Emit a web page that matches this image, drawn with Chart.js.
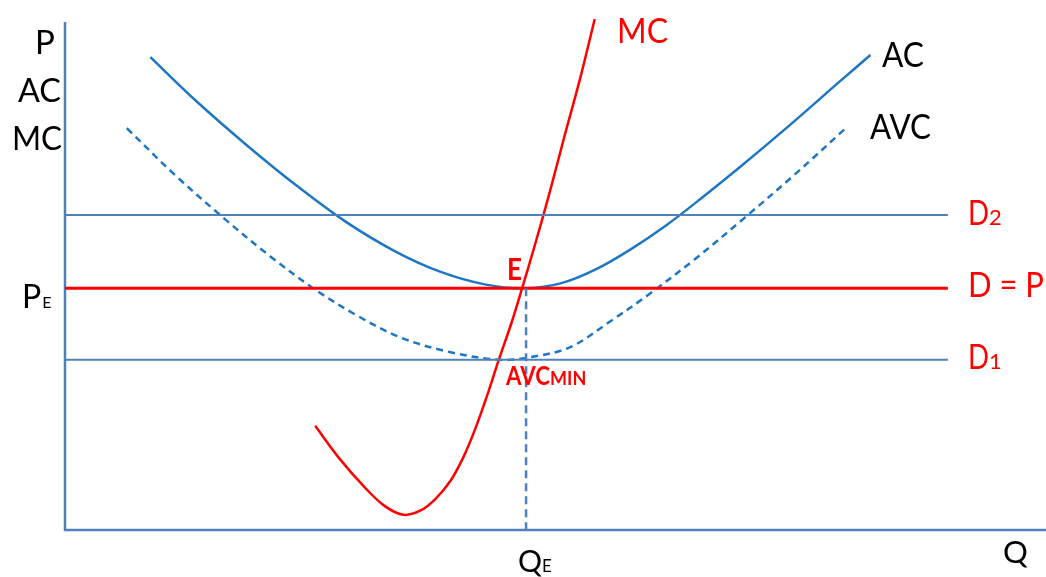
<!DOCTYPE html>
<html>
<head>
<meta charset="utf-8">
<script src="https://cdn.jsdelivr.net/npm/chart.js@4.4.1/dist/chart.umd.min.js"></script>
<style>
  html, body { margin: 0; padding: 0; background: #fff; }
  #wrap { width: 1046px; height: 577px; }
</style>
</head>
<body>
<div id="wrap"><canvas id="grafico" width="1046" height="577"></canvas></div>
<script>
// quantity (Q) and price (P) on a 0..100 scale
const qAC  = [8.7, 13.4, 18.5, 23.6, 28.6, 33.7, 38.3, 42.9, 47.0, 50.6, 54.1, 57.7, 61.3, 64.8, 68.9, 74.0, 79.1, 82.1];
const pAC  = [93.1, 84.4, 75.8, 67.8, 60.7, 54.8, 50.8, 48.3, 47.6, 48.6, 51.3, 55.3, 60.0, 65.2, 71.6, 79.9, 88.5, 93.5];

const qAVC = [6.3, 11.2, 16.3, 20.9, 25.3, 29.6, 34.2, 39.3, 44.3, 47.4, 51.5, 55.6, 59.6, 64.2, 69.3, 74.4, 79.7];
const pAVC = [79.1, 69.9, 61.2, 53.9, 47.6, 42.4, 37.9, 35.0, 33.5, 34.0, 36.0, 41.1, 46.5, 53.3, 61.5, 70.0, 79.3];

const qMC  = [25.5, 28.0, 30.6, 32.6, 34.5, 36.2, 37.7, 39.3, 40.6, 41.8, 43.0, 44.2, 45.5, 46.6, 47.9, 49.4, 50.9, 52.5, 54.0];
const pMC  = [20.5, 14.0, 8.3, 4.7, 3.0, 3.8, 6.0, 9.7, 14.3, 19.8, 26.3, 33.4, 40.7, 47.6, 56.1, 66.4, 77.4, 88.8, 100.6];

const QE = 47.0;
const PE = 47.6;
const D2 = 62.0;
const D1 = 33.5;
const qFimLinha = 90.0;

const azulCurva = '#1f77c4';
const azulEixo = '#4f81bd';
const vermelho = '#ff0000';
const fonte = 'Lato, "Open Sans", sans-serif';

function pontos(qs, ps) {
    return qs.map((q, i) => ({ x: q, y: ps[i] }));
}

function reta(y) {
    return [{ x: 0, y: y }, { x: qFimLinha, y: y }];
}

// eixos desenhados a partir da área do gráfico
const eixos = {
    id: 'eixos',
    beforeDatasetsDraw(chart) {
        const { ctx, chartArea } = chart;
        ctx.save();
        ctx.strokeStyle = azulEixo;
        ctx.lineWidth = 2.5;
        ctx.beginPath();
        ctx.moveTo(chartArea.left, chartArea.top);
        ctx.lineTo(chartArea.left, chartArea.bottom);
        ctx.lineTo(chartArea.right, chartArea.bottom);
        ctx.stroke();
        ctx.restore();
    }
};

// escreve o texto e devolve onde ele termina; larg limita a largura
function texto(ctx, t, x, y, tam, cor, peso, larg) {
    ctx.font = (peso || 'normal') + ' ' + tam + 'px ' + fonte;
    ctx.fillStyle = cor;
    const w = Math.min(ctx.measureText(t).width, larg || Infinity);
    ctx.fillText(t, x, y, w);
    return x + w;
}

// texto com índice menor na mesma linha de base
function textoIndice(ctx, t, sub, x, y, tam, tamSub, cor, peso, larg, largSub, folga) {
    const fim = texto(ctx, t, x, y, tam, cor, peso, larg);
    texto(ctx, sub, fim + (folga || 0), y, tamSub, cor, peso, largSub);
}

const rotulos = {
    id: 'rotulos',
    afterDraw(chart) {
        const ctx = chart.ctx;
        const xs = chart.scales.x;
        const ys = chart.scales.y;
        ctx.save();
        ctx.textBaseline = 'alphabetic';
        ctx.textAlign = 'left';

        // eixo vertical
        texto(ctx, 'P', 35, 54, 33, '#000');
        texto(ctx, 'AC', 18, 102, 33, '#000', 'normal', 43);
        texto(ctx, 'MC', 12, 150, 33, '#000', 'normal', 50);
        textoIndice(ctx, 'P', 'E', 22, ys.getPixelForValue(PE) + 20, 32, 16, '#000', 'normal', 0, 10, 1);

        // eixo horizontal
        textoIndice(ctx, 'Q', 'E', xs.getPixelForValue(QE) - 8, 572, 30, 17, '#000', 'normal', 0, 13, 0);
        texto(ctx, 'Q', 1003, 563, 31, '#000');

        // nomes das curvas
        texto(ctx, 'AC', 882, 67, 34, '#000', 'normal', 42);
        texto(ctx, 'AVC', 870, 139, 34, '#000', 'normal', 61);
        texto(ctx, 'MC', 617, 43, 34, vermelho, 'normal', 51);

        // demandas
        const xD = xs.getPixelForValue(qFimLinha) + 20;
        textoIndice(ctx, 'D', '2', xD, ys.getPixelForValue(D2) + 10, 34, 22, vermelho, 'normal', 21, 13, 0);
        texto(ctx, 'D = P', xD, ys.getPixelForValue(PE) + 9, 34, vermelho, 'normal', 76);
        textoIndice(ctx, 'D', '1', xD, ys.getPixelForValue(D1) + 9, 34, 22, vermelho, 'normal', 21, 13, 0);

        // equilíbrio e mínimo do AVC
        texto(ctx, 'E', xs.getPixelForValue(QE) - 19, ys.getPixelForValue(PE) - 8, 30, vermelho, 'bold', 15);
        textoIndice(ctx, 'AVC', 'MIN', xs.getPixelForValue(QE) - 20, ys.getPixelForValue(D1) + 25, 26, 18, vermelho, 'bold', 44, 39, 0);

        ctx.restore();
    }
};

const ctx = document.getElementById('grafico').getContext('2d');

new Chart(ctx, {
    type: 'line',
    data: {
        datasets: [
            {
                label: 'D2',
                data: reta(D2),
                borderColor: azulEixo,
                borderWidth: 2,
                tension: 0
            },
            {
                label: 'D1',
                data: reta(D1),
                borderColor: azulEixo,
                borderWidth: 2,
                tension: 0
            },
            {
                label: 'QE',
                data: [{ x: QE, y: PE }, { x: QE, y: 0 }],
                borderColor: azulEixo,
                borderWidth: 2.5,
                borderDash: [8, 5],
                tension: 0
            },
            {
                label: 'D = P',
                data: reta(PE),
                borderColor: vermelho,
                borderWidth: 3,
                tension: 0
            },
            {
                label: 'AVC',
                data: pontos(qAVC, pAVC),
                borderColor: azulCurva,
                borderWidth: 2.5,
                borderDash: [7, 5],
                tension: 0.35
            },
            {
                label: 'AC',
                data: pontos(qAC, pAC),
                borderColor: azulCurva,
                borderWidth: 2.5,
                tension: 0.35
            },
            {
                label: 'MC',
                data: pontos(qMC, pMC),
                borderColor: vermelho,
                borderWidth: 2.5,
                tension: 0.35
            }
        ]
    },
    options: {
        responsive: false,
        animation: false,
        devicePixelRatio: 1,
        layout: { padding: { left: 65, top: 22, right: 0, bottom: 47 } },
        elements: { point: { radius: 0, hoverRadius: 0 } },
        datasets: { line: { clip: false, fill: false } },
        plugins: {
            legend: { display: false },
            tooltip: { enabled: false }
        },
        scales: {
            x: { type: 'linear', min: 0, max: 100, display: false },
            y: { type: 'linear', min: 0, max: 100, display: false }
        }
    },
    plugins: [eixos, rotulos]
});
</script>
</body>
</html>
